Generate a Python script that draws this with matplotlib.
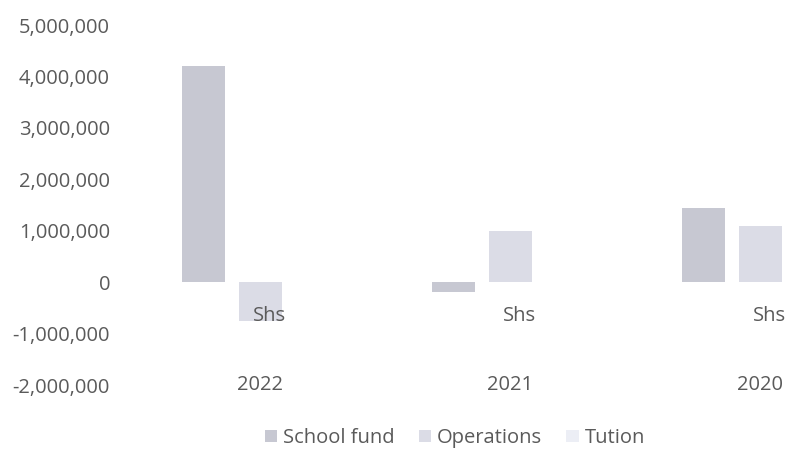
import numpy as np
import matplotlib.pyplot as plt
from matplotlib.ticker import FuncFormatter

# data (Shs)
years = ['2022', '2021', '2020']
unit_label = 'Shs'
series_names = ['School fund', 'Operations', 'Tution']
school_fund = [4200000, -200000, 1450000]
operations = [-750000, 1000000, 1100000]
tution = [0, 0, 0]

colors = ['#c7c8d2', '#dbdce6', '#eceef5']
text_col = '#5a5a5a'

plt.rcParams['font.family'] = ['Open Sans', 'DejaVu Sans']

fig = plt.figure(figsize=(7.88, 4.51), dpi=100)
# plot area runs past the right edge (the scan is cropped there)
ax = fig.add_axes([135 / 788, 66 / 451, 750 / 788, 360 / 451])

x = np.arange(len(years))
w = 0.172
off = 0.228
for i, (vals, name) in enumerate(zip([school_fund, operations, tution], series_names)):
    ax.bar(x + (i - 1) * off, vals, width=w, color=colors[i], label=name)

ax.set_xlim(-0.5, 2.5)
ax.set_ylim(-2000000, 5000000)
ax.set_yticks(np.arange(-2000000, 5000001, 1000000))
ax.yaxis.set_major_formatter(FuncFormatter(lambda v, p: '{:,.0f}'.format(v)))
ax.tick_params(axis='y', length=0, labelsize=14.5, labelcolor=text_col, pad=18)
ax.set_xticks([])
for s in ax.spines.values():
    s.set_visible(False)

# two-level category labels
for i, yr in enumerate(years):
    ax.text(x[i] + 0.04, -650000, unit_label, ha='center', va='center',
            fontsize=14.5, color=text_col)
    ax.text(x[i], -2000000, yr, ha='center', va='center',
            fontsize=14.5, color=text_col)

fig.legend(loc='center', bbox_to_anchor=(455 / 788, 1 - 438 / 451), ncol=3,
           frameon=False, fontsize=14.5, labelcolor=text_col,
           handlelength=0.6, handleheight=0.6, handletextpad=0.3, columnspacing=1.2)

fig.savefig('out.png', dpi=100)
